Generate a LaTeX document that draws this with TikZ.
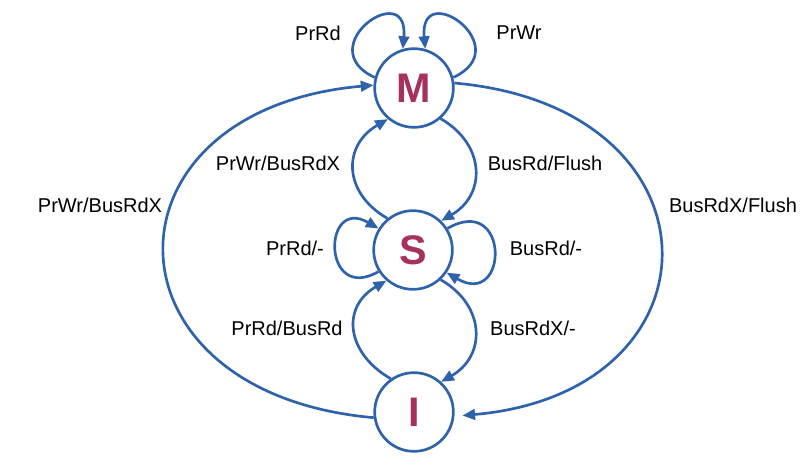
\documentclass[tikz,border=0pt]{standalone}
\usepackage{fontspec}
\setmainfont{Liberation Sans}
\usetikzlibrary{arrows.meta}
\definecolor{arcblue}{RGB}{46,98,171}
\definecolor{statered}{RGB}{165,50,92}

\begin{document}
\begin{tikzpicture}[x=0.75pt, y=0.75pt, line width=2pt,
    state/.style={draw=arcblue, circle, minimum size=59pt, inner sep=0pt,
        text=statered, font=\fontsize{31}{31}\selectfont\bfseries},
    trans/.style={draw=arcblue, -{Triangle[length=9.5pt,width=8pt]}},
    lbl/.style={font=\fontsize{15}{18}\selectfont}]

    \useasboundingbox (0,0) rectangle (812,472);

    % Draw the states
    \node[state] (M) at (414, 472-88) {M};
    \node[state] (S) at (413, 472-250) {S};
    \node[state] (I) at (414, 472-412) {I};

    % Draw the self loops
    \draw[trans] (M.165) to[out=155, in=85, distance=54pt] (M.106);
    \draw[trans] (M.15) to[out=25, in=95, distance=54pt] (M.74);
    \draw[trans] (S.212) to[out=210, in=150, distance=49pt] (S.148);
    \draw[trans] (S.32) to[out=30, in=-30, distance=54pt] (S.-34);

    % Draw the arcs between neighbouring states
    \draw[trans] (S.129) to[out=150, in=210, distance=39pt] (M.230);
    \draw[trans] (M.-49) to[out=-30, in=30, distance=39pt] (S.46);
    \draw[trans] (I.125) to[out=150, in=210, distance=39pt] (S.229);
    \draw[trans] (S.-47) to[out=-30, in=30, distance=39pt] (I.48);

    % Draw the outer arcs
    \draw[trans] (I.188) to[out=175, in=185, distance=210pt] (M.176);
    \draw[trans, shorten >=6pt] (M.7) to[out=-5, in=5, distance=206pt] (I.-6);

    % Draw the labels
    \node[lbl] (mRd) at (318, 472-33) {PrRd};
    \node[lbl] (mWr) at (519, 472-33) {PrWr};
    \node[lbl] (smUp) at (278, 472-163) {PrWr/BusRdX};
    \node[lbl] (msDown) at (545, 472-163) {BusRd/Flush};
    \node[lbl] (imOut) at (100, 472-205) {PrWr/BusRdX};
    \node[lbl] (miOut) at (733, 472-205) {BusRdX/Flush};
    \node[lbl] (sRd) at (295, 472-248) {PrRd/-};
    \node[lbl] (sBus) at (546, 472-248) {BusRd/-};
    \node[lbl] (isUp) at (287, 472-328) {PrRd/BusRd};
    \node[lbl] (siDown) at (533, 472-328) {BusRdX/-};

\end{tikzpicture}
\end{document}
